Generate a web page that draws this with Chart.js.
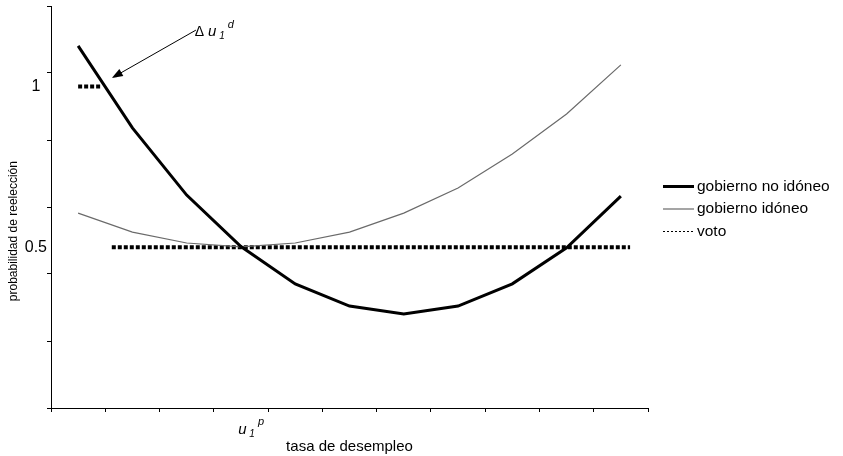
<!DOCTYPE html>
<html>
<head>
<meta charset="utf-8">
<script src="https://cdn.jsdelivr.net/npm/chart.js@4.4.1/dist/chart.umd.min.js"></script>
<style>
  html, body { margin: 0; padding: 0; background: #fff; }
  #wrap { width: 843px; height: 456px; }
</style>
</head>
<body>
<div id="wrap"><canvas id="grafico"></canvas></div>
<script>
// posiciones de los puntos sobre el eje de desempleo (centro de cada categoría)
const posiciones = [0.5, 1.5, 2.5, 3.5, 4.5, 5.5, 6.5, 7.5, 8.5, 9.5, 10.5];
const gobiernoNoIdoneo = [1.126, 0.871, 0.662, 0.502, 0.386, 0.317, 0.292, 0.317, 0.386, 0.498, 0.659];
const gobiernoIdoneo   = [0.606, 0.547, 0.513, 0.501, 0.513, 0.547, 0.606, 0.684, 0.790, 0.914, 1.067];
// voto: tramo en 1 y tramo en 0.5 (null = corte)
const votoX = [0.5, 0.94, 1.03, 1.12, 10.67];
const votoY = [1, 1, null, 0.5, 0.5];
// marcas de los ejes
const marcasX = [0, 1, 2, 3, 4, 5, 6, 7, 8, 9, 10, 11];
const marcasY = [0, 0.2083, 0.4167, 0.625, 0.8333, 1.0417, 1.25];
const etiquetasY = { 0.5: '0.5', 1: '1' };

const fuente = "'Liberation Sans', Arial, sans-serif";

const pares = (xs, ys) => xs.map((x, i) => ({ x, y: ys[i] }));

// leyenda a la derecha, dibujada a partir de los datasets
const leyenda = {
  id: 'leyenda',
  afterDraw(chart) {
    const { ctx, chartArea } = chart;
    const x0 = chartArea.right + 15;
    const yMedio = (chartArea.top + chartArea.bottom) / 2 + 2;
    const paso = 22.5;
    const items = chart.data.datasets;
    ctx.save();
    ctx.font = '15.5px ' + fuente;
    ctx.textBaseline = 'middle';
    ctx.textAlign = 'left';
    ctx.fillStyle = '#000';
    items.forEach((ds, i) => {
      const yy = yMedio + (i - (items.length - 1) / 2) * paso;
      ctx.strokeStyle = ds.borderColor;
      ctx.lineWidth = ds.label === 'voto' ? 1 : ds.borderWidth;
      ctx.setLineDash(ds.label === 'voto' ? [2, 2] : []);
      ctx.beginPath();
      ctx.moveTo(x0, yy);
      ctx.lineTo(x0 + 31, yy);
      ctx.stroke();
      ctx.fillText(ds.label, x0 + 34, yy);
    });
    ctx.restore();
  }
};

const anotaciones = {
  id: 'anotaciones',
  afterDraw(chart) {
    const { ctx, scales: { x, y } } = chart;
    const escribir = (x0, y0, partes) => {
      let cx = x0;
      partes.forEach(p => {
        ctx.font = p.font;
        ctx.fillText(p.t, cx, y0 + (p.dy || 0));
        cx += ctx.measureText(p.t).width;
      });
    };
    ctx.save();
    ctx.fillStyle = '#000';
    ctx.textBaseline = 'alphabetic';
    ctx.textAlign = 'left';

    // Δ u1^d
    escribir(x.getPixelForValue(2.65), y.getPixelForValue(1.158), [
      { t: 'Δ ', font: '14px ' + fuente },
      { t: 'u', font: 'italic 15px ' + fuente },
      { t: ' 1', font: 'italic 10px ' + fuente, dy: 3 },
      { t: ' d', font: 'italic 11px ' + fuente, dy: -8 }
    ]);

    // flecha
    const x1 = x.getPixelForValue(2.67), y1 = y.getPixelForValue(1.175);
    const x2 = x.getPixelForValue(1.12), y2 = y.getPixelForValue(1.026);
    const ang = Math.atan2(y2 - y1, x2 - x1);
    ctx.strokeStyle = '#000';
    ctx.lineWidth = 1;
    ctx.beginPath();
    ctx.moveTo(x1, y1);
    ctx.lineTo(x2 - 8 * Math.cos(ang), y2 - 8 * Math.sin(ang));
    ctx.stroke();
    ctx.beginPath();
    ctx.moveTo(x2, y2);
    ctx.lineTo(x2 - 11 * Math.cos(ang) + 4 * Math.sin(ang), y2 - 11 * Math.sin(ang) - 4 * Math.cos(ang));
    ctx.lineTo(x2 - 11 * Math.cos(ang) - 4 * Math.sin(ang), y2 - 11 * Math.sin(ang) + 4 * Math.cos(ang));
    ctx.closePath();
    ctx.fill();

    // u1^p
    escribir(x.getPixelForValue(3.45), y.bottom + 26, [
      { t: 'u', font: 'italic 15px ' + fuente },
      { t: ' 1', font: 'italic 10px ' + fuente, dy: 3 },
      { t: ' p', font: 'italic 11px ' + fuente, dy: -9 }
    ]);

    // título eje y
    ctx.translate(14, y.top + (y.bottom - y.top) * 0.56);
    ctx.rotate(-Math.PI / 2);
    ctx.textAlign = 'center';
    ctx.textBaseline = 'middle';
    ctx.font = '12px ' + fuente;
    ctx.fillText('probabilidad de reelección', 0, 0);
    ctx.restore();
  }
};

new Chart(document.getElementById('grafico').getContext('2d'), {
  type: 'line',
  data: {
    datasets: [
      {
        label: 'gobierno no idóneo',
        data: pares(posiciones, gobiernoNoIdoneo),
        borderColor: '#000',
        borderWidth: 3,
        pointRadius: 0,
        tension: 0
      },
      {
        label: 'gobierno idóneo',
        data: pares(posiciones, gobiernoIdoneo),
        borderColor: '#6a6a6a',
        borderWidth: 1.2,
        pointRadius: 0,
        tension: 0
      },
      {
        label: 'voto',
        data: pares(votoX, votoY),
        borderColor: '#000',
        borderWidth: 4,
        borderDash: [4, 2],
        pointRadius: 0,
        spanGaps: false,
        tension: 0
      }
    ]
  },
  options: {
    responsive: true,
    maintainAspectRatio: false,
    animation: false,
    layout: { padding: { top: 6, right: 195, bottom: 0, left: 0 } },
    scales: {
      x: {
        type: 'linear',
        min: 0,
        max: 11,
        afterBuildTicks: s => { s.ticks = marcasX.map(v => ({ value: v })); },
        afterFit: s => { s.height = 48; },
        ticks: { callback: () => '', font: { size: 1 }, padding: 0 },
        grid: { drawOnChartArea: false, drawTicks: true, tickLength: 4, tickColor: '#000' },
        border: { color: '#000', width: 1 },
        title: {
          display: true,
          text: 'tasa de desempleo',
          color: '#000',
          font: { family: fuente, size: 15 },
          padding: { top: 0, bottom: 0 }
        }
      },
      y: {
        min: 0,
        max: 1.25,
        afterBuildTicks: s => {
          const todos = marcasY.concat(Object.keys(etiquetasY).map(Number)).sort((a, b) => a - b);
          s.ticks = todos.map(v => ({ value: v }));
        },
        afterFit: s => { s.width = 51; },
        ticks: {
          color: '#000',
          font: c => ({ family: fuente, size: etiquetasY[c.tick && c.tick.value] ? 16 : 1 }),
          padding: 0,
          crossAlign: 'center',
          callback: v => etiquetasY[v] || ''
        },
        grid: {
          drawOnChartArea: false,
          drawTicks: true,
          tickLength: 4,
          tickColor: c => (etiquetasY[c.tick.value] ? 'rgba(0,0,0,0)' : '#000')
        },
        border: { color: '#000', width: 1 }
      }
    },
    plugins: {
      legend: { display: false },
      tooltip: { enabled: false }
    }
  },
  plugins: [anotaciones, leyenda]
});
</script>
</body>
</html>
